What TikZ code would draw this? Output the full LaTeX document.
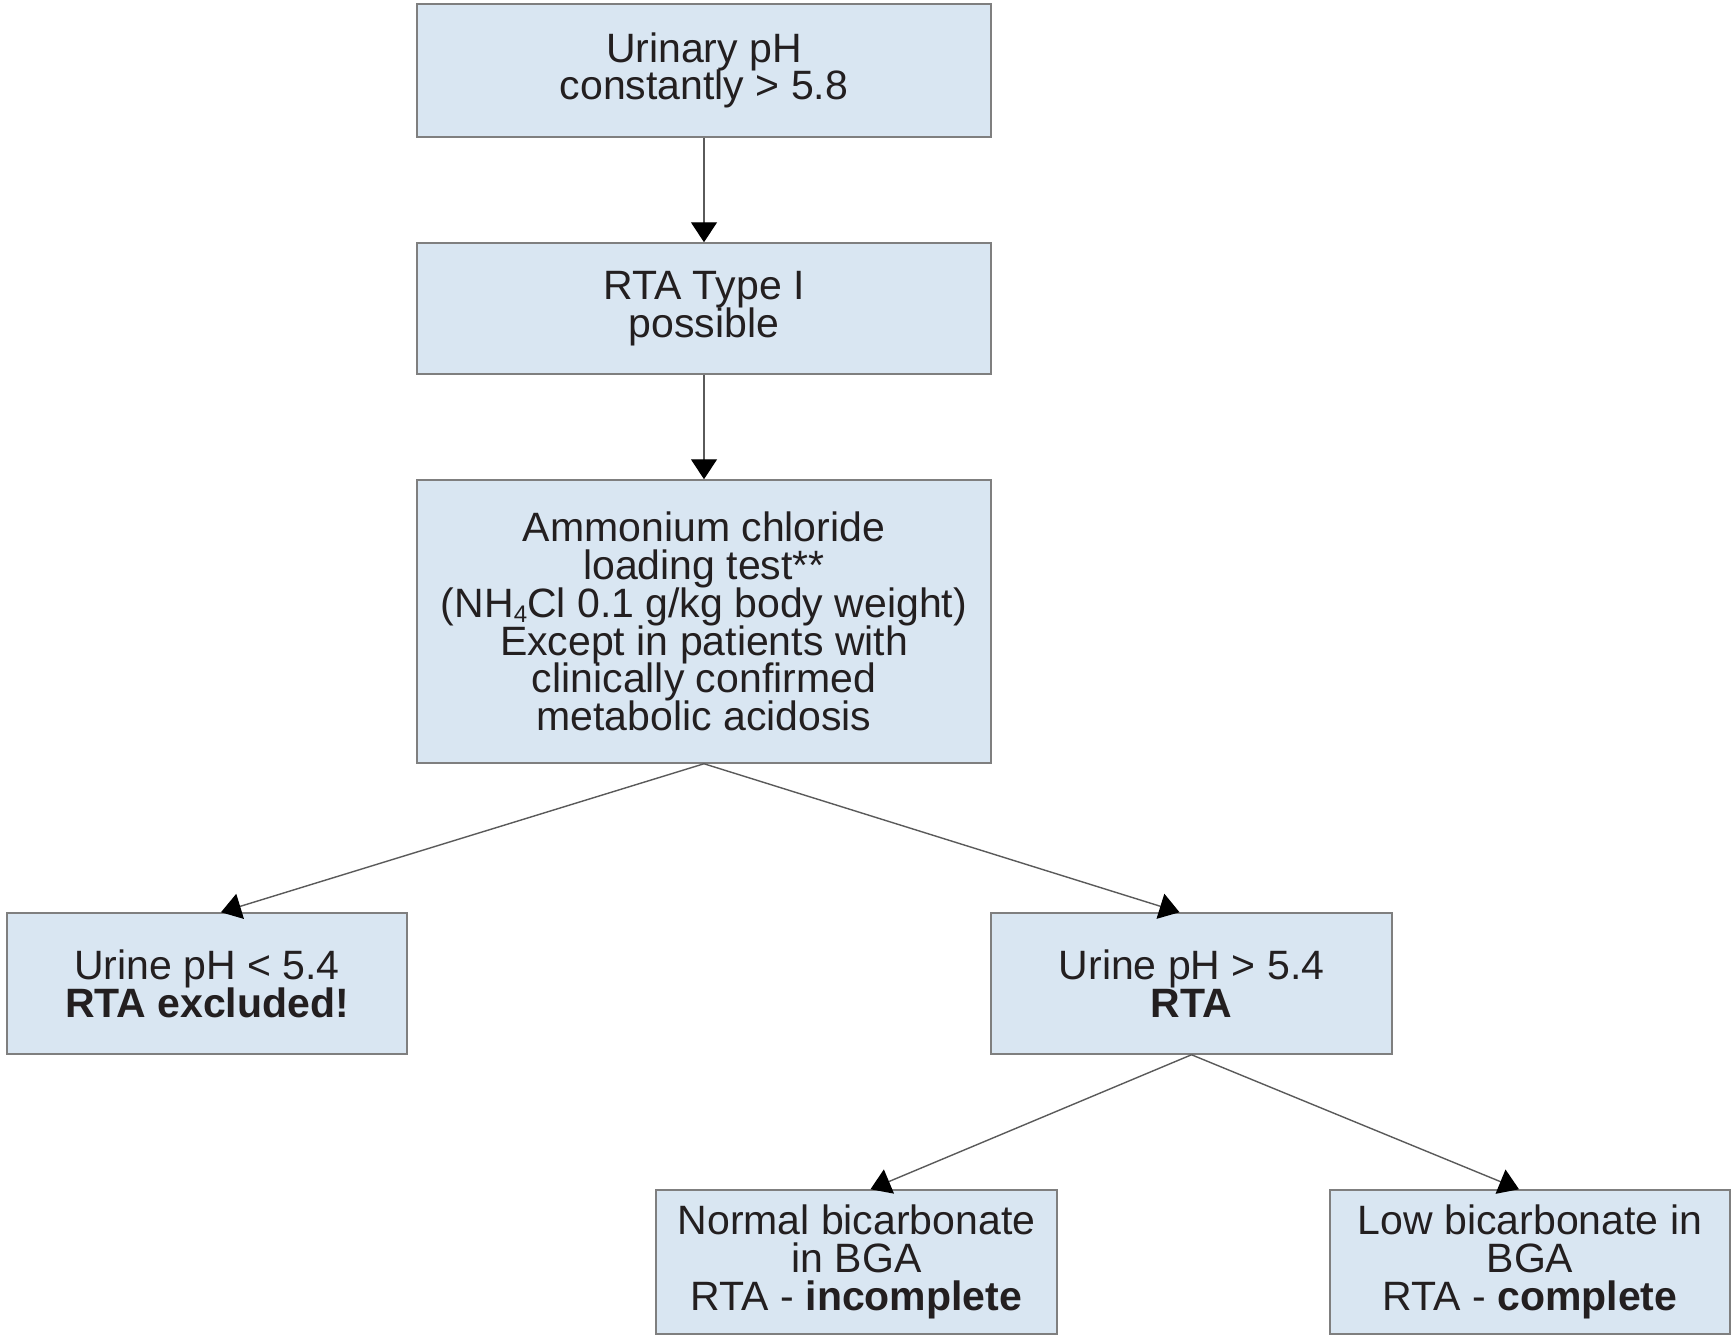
\documentclass[tikz,border=0pt]{standalone}
\usepackage{fontspec}
\setmainfont{Liberation Sans}
\usetikzlibrary{arrows.meta,calc}
\definecolor{boxfill}{HTML}{D9E6F2}
\definecolor{boxline}{HTML}{7F7F7F}
\definecolor{txt}{HTML}{231F20}
\definecolor{arr}{HTML}{5A5A5A}
\newcommand\mytightlines{\lineskiplimit=-100pt\relax}
\newcommand\myboxfont{\fontsize{41}{37.8}\selectfont\mytightlines}
\newcommand\mysubfour{\raisebox{-5pt}{\fontsize{24}{24}\selectfont 4}}
\begin{document}
\begin{tikzpicture}[x=1pt,y=-1pt,
  box/.style={draw=boxline, line width=1.5pt, fill=boxfill, text=txt, align=center, inner sep=0pt,
    font=\myboxfont},
  conn/.style={draw=arr, line width=1.4pt, -{Triangle[width=26pt,length=20pt,color=black]}}]
\useasboundingbox (0,0) rectangle (1731,1335);
\fill[white] (0,0) rectangle (1731,1335);
\node[box, minimum width=574pt, minimum height=133pt] (b1) at (704,70.5) {Urinary pH\\constantly > 5.8};
\node[box, minimum width=574pt, minimum height=131pt] (b2) at (704,308.5) {RTA Type I\\possible};
\node[box, minimum width=574pt, minimum height=283pt] (b3) at (704,621.5) {Ammonium chloride\\loading test**\\(NH\mysubfour Cl 0.1 g/kg body weight)\\Except in patients with\\clinically confirmed\\metabolic acidosis};
\node[box, minimum width=400pt, minimum height=141pt] (b4) at (207,983.5) {Urine pH < 5.4\\\textbf{RTA excluded!}};
\node[box, minimum width=401pt, minimum height=141pt] (b5) at (1191.5,983.5) {Urine pH > 5.4\\\textbf{RTA}};
\node[box, minimum width=401pt, minimum height=144pt] (b6) at (856.5,1262) {Normal bicarbonate\\in BGA\\RTA - \textbf{incomplete}};
\node[box, minimum width=400pt, minimum height=144pt] (b7) at (1530,1262) {Low bicarbonate in\\BGA\\RTA - \textbf{complete}};
\draw[conn] (b1.south) -- (b2.north);
\draw[conn] (b2.south) -- (b3.north);
\draw[conn] (b3.south) -- ($(b4.north)+(14,0)$);
\draw[conn] (b3.south) -- ($(b5.north)+(-12,0)$);
\draw[conn] (b5.south) -- ($(b6.north)+(14,0)$);
\draw[conn] (b5.south) -- ($(b7.north)+(-11,0)$);
\end{tikzpicture}
\end{document}
